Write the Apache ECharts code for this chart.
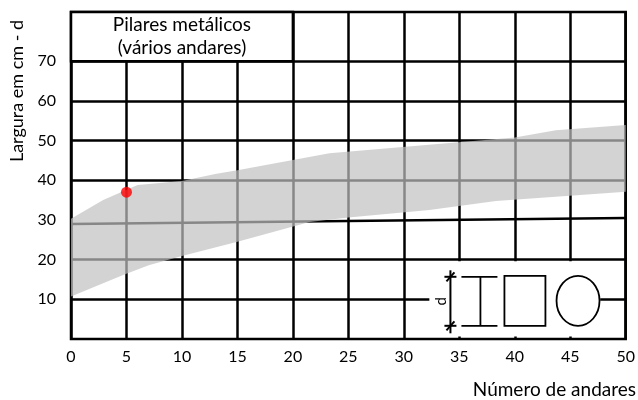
<!DOCTYPE html>
<html>
<head>
<meta charset="utf-8">
<script src="https://cdn.jsdelivr.net/npm/echarts@6/dist/echarts.min.js"></script>
<style>
  html, body { margin: 0; padding: 0; background: #fff; }
  #chart { width: 638px; height: 400px; }
</style>
</head>
<body>
<div id="chart"></div>
<script>
// faixa cinzenta (limite superior e inferior)
const bandUpper = [[0, 30.3], [2.9, 35], [6, 38.8], [10, 39.8], [13, 41.6], [15, 42.5],
  [23.3, 46.8], [32, 48.9], [40, 50.8], [43.7, 52.6], [50, 53.9]];
const bandLower = [[0, 10.7], [4.7, 16.1], [7, 18.6], [10, 20.9], [15, 24.5],
  [21.5, 29.5], [25, 30.6], [32.3, 32.5], [38.3, 34.8], [50, 37.1]];
// ponto destacado
const highlight = [[5, 37]];
// linhas horizontais da grelha
const gridLevels = [10, 20, 40, 50, 60, 70];
const tiltedLine = [[0, 29], [50, 30.5]];
const titleText = 'Pilares metálicos\n(vários andares)';

const FONT = 'Lato';
const chart = echarts.init(document.getElementById('chart'));

const option = {
  animation: false,
  textStyle: { fontFamily: FONT },
  grid: {
    left: 71, right: 11, top: 12, bottom: 61,
    show: true, borderColor: '#000', borderWidth: 2.5, backgroundColor: '#fff'
  },
  xAxis: {
    type: 'value', min: 0, max: 50, interval: 5,
    axisLine: { show: false },
    axisTick: { show: false },
    axisLabel: { fontSize: 16, color: '#000', margin: 10, fontFamily: FONT },
    splitLine: { show: true, lineStyle: { color: '#000', width: 2.5 } }
  },
  yAxis: {
    type: 'value', min: 0, max: 82.4, interval: 10,
    axisLine: { show: false },
    axisTick: { show: false },
    splitLine: { show: false },
    axisLabel: {
      fontSize: 16, color: '#000', margin: 15, fontFamily: FONT,
      formatter: v => (v > 0 && v <= 70) ? String(v) : ''
    }
  },
  graphic: [
    {
      type: 'text', x: 17, y: 91, rotation: Math.PI / 2,
      style: {
        text: 'Largura em cm - d', font: '18px ' + FONT, fill: '#000',
        textAlign: 'center', textVerticalAlign: 'middle'
      }
    },
    {
      type: 'text', x: 636, y: 390,
      style: {
        text: 'Número de andares', font: '19px ' + FONT, fill: '#000',
        textAlign: 'right', textVerticalAlign: 'middle'
      }
    }
  ],
  series: [
    {
      // linhas horizontais
      name: 'grelha', type: 'line', data: [], z: 1, silent: true,
      markLine: {
        silent: true, z: 1, symbol: ['none', 'none'],
        label: { show: false },
        lineStyle: { color: '#000', width: 2.5, type: 'solid' },
        data: gridLevels.map(v => ({ yAxis: v })).concat([
          [{ coord: tiltedLine[0] }, { coord: tiltedLine[1] }]
        ])
      }
    },
    {
      // caixas brancas: título e legenda das secções
      name: 'caixas', type: 'line', data: [], z: 2, silent: true,
      markArea: {
        silent: true, z: 2,
        data: [
          [
            { xAxis: 32.3, yAxis: 0.6, itemStyle: { color: '#fff', borderWidth: 0 } },
            { xAxis: 47.7, yAxis: 19.6 }
          ],
          [
            {
              xAxis: 0, yAxis: 70,
              itemStyle: { color: '#fff', borderColor: '#000', borderWidth: 2.5 },
              label: {
                show: true, position: 'inside', formatter: titleText,
                fontSize: 19, lineHeight: 23, color: '#000', fontFamily: FONT
              }
            },
            { xAxis: 20, yAxis: 82.4 }
          ]
        ]
      }
    },
    {
      name: 'faixa', type: 'custom', z: 3, silent: true,
      data: [[0, 0]],
      renderItem: (params, api) => {
        const pts = bandUpper.map(p => api.coord(p))
          .concat(bandLower.slice().reverse().map(p => api.coord(p)));
        return {
          type: 'polygon',
          shape: { points: pts },
          style: { fill: 'rgba(193,193,193,0.70)' }
        };
      }
    },
    {
      // desenhos das secções (d, perfil I, quadrado, círculo)
      name: 'secções', type: 'custom', z: 4, silent: true,
      data: [[34.2, 9.5]],
      renderItem: (params, api) => {
        const a = api.coord([api.value(0), api.value(1)]);
        const ax = a[0], ay = a[1];
        const st = { stroke: '#000', lineWidth: 1.8 };
        const ln = (x1, y1, x2, y2, w) => ({
          type: 'line',
          shape: { x1: ax + x1, y1: ay + y1, x2: ax + x2, y2: ay + y2 },
          style: w ? { stroke: '#000', lineWidth: w } : st
        });
        return {
          type: 'group',
          children: [
            ln(0, -31, 0, 32, 2),
            ln(-6, -24.5, 6, -24.5, 2), ln(-4, -20, 4, -29, 2),
            ln(-6, 24.5, 6, 24.5, 2), ln(-4, 29, 4, 20, 2),
            {
              type: 'text', x: ax - 9, y: ay, rotation: Math.PI / 2,
              style: {
                text: 'd', font: '15px ' + FONT, fill: '#000',
                textAlign: 'center', textVerticalAlign: 'middle'
              }
            },
            ln(11, -24.5, 47, -24.5), ln(11, 24.5, 47, 24.5), ln(30, -24.5, 30, 24.5),
            {
              type: 'rect',
              shape: { x: ax + 54, y: ay - 25.5, width: 41, height: 50 },
              style: { fill: '#fff', stroke: '#000', lineWidth: 1.8 }
            },
            {
              type: 'ellipse',
              shape: { cx: ax + 127.6, cy: ay - 0.5, rx: 21.5, ry: 25 },
              style: { fill: '#fff', stroke: '#000', lineWidth: 1.8 }
            }
          ]
        };
      }
    },
    {
      name: 'ponto', type: 'scatter', z: 5,
      data: highlight,
      symbolSize: 11,
      itemStyle: { color: '#ff0000' }
    }
  ]
};

chart.setOption(option);
</script>
</body>
</html>
